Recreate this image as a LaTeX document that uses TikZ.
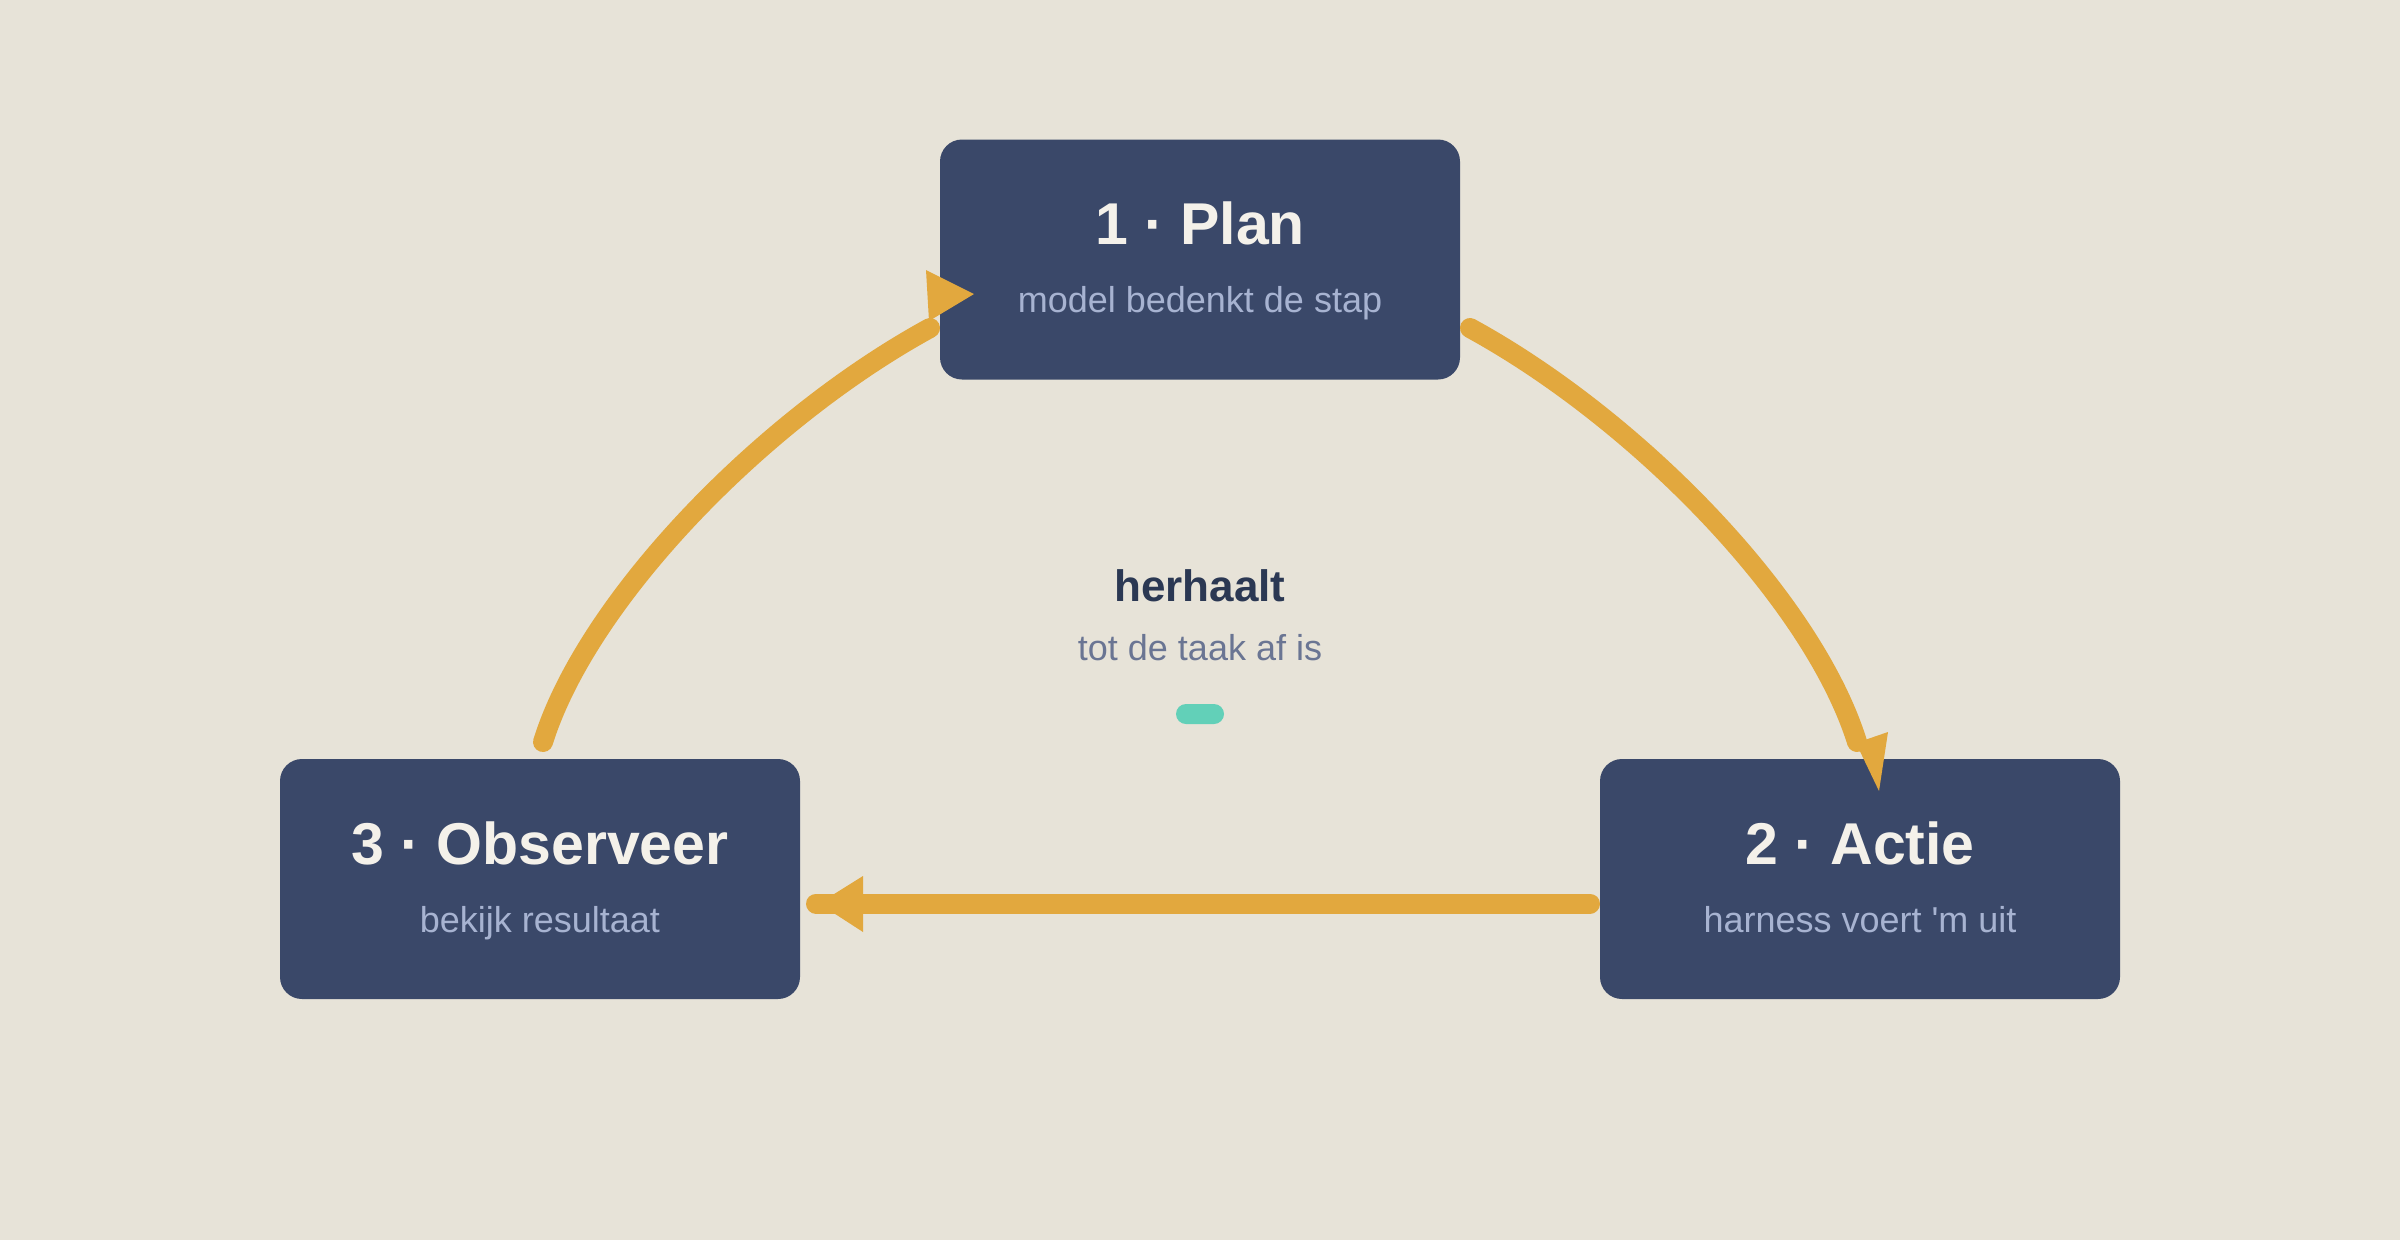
\documentclass[tikz,border=0pt]{standalone}
\usepackage{fontspec}
\setmainfont{Liberation Sans}[Ligatures=TeXOff]
\definecolor{bgc}{HTML}{E7E3D8}
\definecolor{boxc}{HTML}{3A4869}
\definecolor{titlec}{HTML}{F4F1EA}
\definecolor{subc}{HTML}{A7B3D1}
\definecolor{arrowc}{HTML}{E2A83E}
\definecolor{midc}{HTML}{2B3853}
\definecolor{midsubc}{HTML}{6A7593}
\definecolor{pillc}{HTML}{62D0B8}
\begin{document}
\begin{tikzpicture}[x=1pt,y=-1pt,
  stagebox/.style={fill=boxc, draw=none, rounded corners=22pt, minimum width=520pt, minimum height=240pt, inner sep=0pt},
  ttl/.style={text=titlec, font=\fontsize{59}{70}\selectfont\bfseries, anchor=base, inner sep=0pt},
  subt/.style={text=subc, font=\fontsize{36}{44}\selectfont, anchor=base, inner sep=0pt},
  flow/.style={draw=arrowc, line width=20pt, line cap=round},
  head/.style={fill=arrowc, draw=none}]
\useasboundingbox[fill=bgc] (0,0) rectangle (2400,1240);

% boxes
\node[stagebox] (plan) at (1200,259.5) {};
\node[stagebox] (obs) at (540,879) {};
\node[stagebox] (act) at (1860,879) {};

% connector ends
\coordinate (o1) at (543,742);
\coordinate (p1) at (930,328);
\coordinate (p2) at (1470,328);
\coordinate (a1) at (1857,742);
\coordinate (a2) at (1590,903.5);
\coordinate (o2) at (816,903.5);

% connectors
\draw[flow] (o1) .. controls (588,598) and (765,418) .. (p1);
\draw[flow] (p2) .. controls (1635,418) and (1812,598) .. (a1);
\draw[flow] (a2) -- (o2);

% arrowheads
\fill[head] (926,270) -- (974,294) -- (929,321) -- cycle;
\fill[head] (1856,743) -- (1888,732) -- (1879,791) -- cycle;
\fill[head] (863,876) -- (863,932) -- (819,903.5) -- cycle;

% texts
\node[ttl] (planT) at (1200,244) {1 · Plan};
\node[subt] (planS) at (1200,312) {model bedenkt de stap};
\node[ttl] (obsT) at (540,864) {3 · Observeer};
\node[subt] (obsS) at (540,932) {bekijk resultaat};
\node[ttl] (actT) at (1860,864) {2 · Actie};
\node[subt] (actS) at (1860,932) {harness voert 'm uit};

\node[text=midc, font=\fontsize{44}{52}\selectfont\bfseries, anchor=base, inner sep=0pt] (rep) at (1200,601) {herhaalt};
\node[text=midsubc, font=\fontsize{36}{44}\selectfont, anchor=base, inner sep=0pt] (until) at (1200,660) {tot de taak af is};
\node[fill=pillc, draw=none, rounded corners=10pt, minimum width=48pt, minimum height=20pt, inner sep=0pt] (pill) at (1200,714) {};
\end{tikzpicture}
\end{document}
